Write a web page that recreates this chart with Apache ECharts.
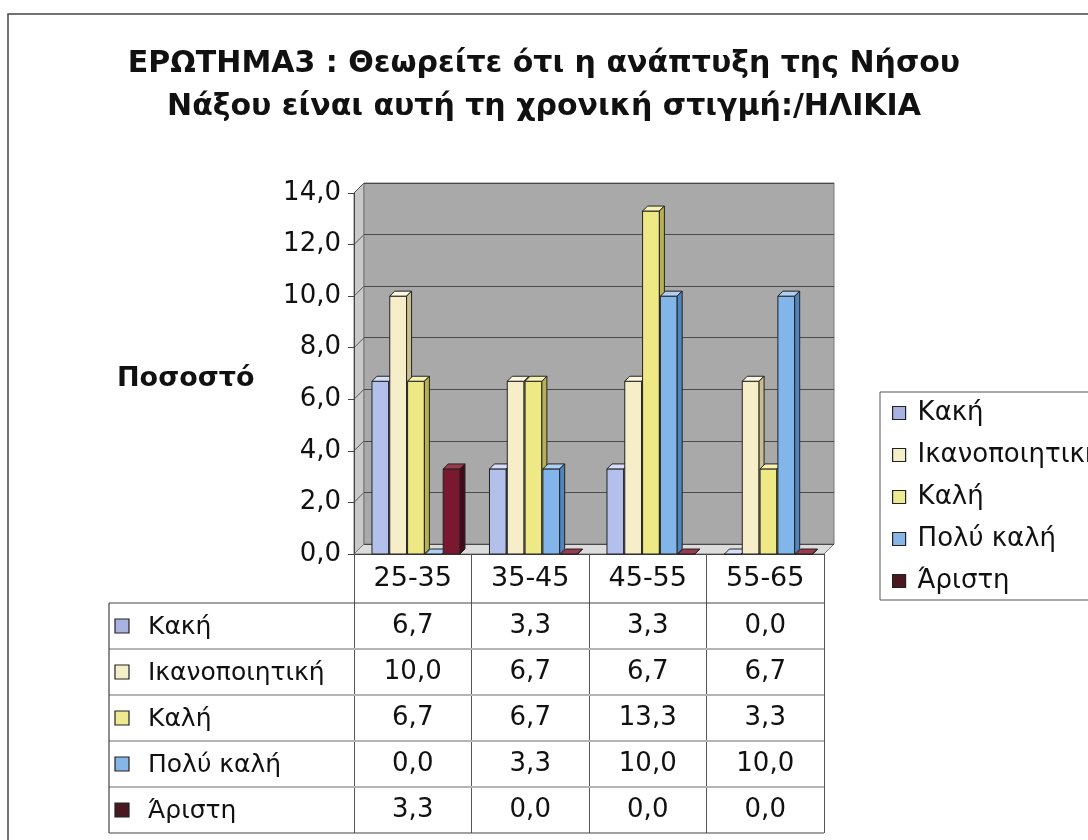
<!DOCTYPE html>
<html>
<head>
<meta charset="utf-8">
<title>ΕΡΩΤΗΜΑ3 / ΗΛΙΚΙΑ</title>
<script src="https://cdn.jsdelivr.net/npm/echarts@6.0.0/dist/echarts.min.js"></script>
<style>
  html, body { margin: 0; padding: 0; background: #fff; }
  #chart { width: 1088px; height: 840px; }
</style>
</head>
<body>
<div id="chart"></div>
<script>
  // data
  const ageGroups = ['25-35', '35-45', '45-55', '55-65'];
  const seriesNames = ['Κακή', 'Ικανοποιητική', 'Καλή', 'Πολύ καλή', 'Άριστη'];
  const kaki = [6.7, 3.3, 3.3, 0.0];
  const ikanopoiitiki = [10.0, 6.7, 6.7, 6.7];
  const kali = [6.7, 6.7, 13.3, 3.3];
  const polyKali = [0.0, 3.3, 10.0, 10.0];
  const aristi = [3.3, 0.0, 0.0, 0.0];
  const seriesValues = [kaki, ikanopoiitiki, kali, polyKali, aristi];

  // front, top, side shades for each series
  const colors = ['#b3c0ec', '#f6eec8', '#eee985', '#82b6ea', '#7a1830'];
  const topColors = ['#d8defa', '#fbf7e0', '#f6f2b4', '#afd0f3', '#9a3a50'];
  const sideColors = ['#7f8cc0', '#c9bf8e', '#b8b152', '#4f86be', '#45091a'];
  const legendColors = ['#a9b3e2', '#f3efc8', '#eeea92', '#86b6e6', '#4a1820'];

  const font = 'DejaVu Sans';
  const fmt = v => v.toFixed(1).replace('.', ',');

  // layout
  const G = { left: 354, top: 193, width: 470, height: 361 };
  const depth = 10;
  const rowTop = 603, rowH = 46, tableLeft = 109;

  const chart = echarts.init(document.getElementById('chart'));

  function barRenderer(si) {
    return function (params, api) {
      const cat = api.value(0);
      const val = api.value(1);
      const top = api.coord([cat, val]);
      const base = api.coord([cat, 0]);
      const band = api.size([1, 0])[0];
      const pitch = band * 0.1515;
      const w = pitch - 1;
      const x = top[0] - band / 2 + band * 0.153 + si * pitch;
      const d = 5;
      const y = top[1];
      const h = base[1] - y;
      const line = '#222';
      return {
        type: 'group',
        children: [
          { type: 'rect', shape: { x: x, y: y, width: w, height: h },
            style: { fill: colors[si], stroke: line, lineWidth: 1 } },
          { type: 'polygon', shape: { points: [[x, y], [x + d, y - d], [x + w + d, y - d], [x + w, y]] },
            style: { fill: topColors[si], stroke: line, lineWidth: 1 } },
          { type: 'polygon', shape: { points: [[x + w, y], [x + w + d, y - d], [x + w + d, base[1] - d], [x + w, base[1]]] },
            style: { fill: sideColors[si], stroke: line, lineWidth: 1 } }
        ]
      };
    };
  }

  // table under the plot, built from the arrays
  const band = G.width / ageGroups.length;
  const tableRight = G.left + G.width;
  const table = [];
  for (let r = 0; r <= seriesNames.length; r++) {
    const edge = r === 0 || r === seriesNames.length;
    table.push({
      type: 'line', z: 20,
      shape: { x1: tableLeft, y1: rowTop + r * rowH, x2: tableRight, y2: rowTop + r * rowH },
      style: { stroke: edge ? '#444' : '#b5b5b5', lineWidth: edge ? 1.2 : 2 }
    });
  }
  table.push({
    type: 'line', z: 20,
    shape: { x1: tableLeft, y1: rowTop, x2: tableLeft, y2: rowTop + seriesNames.length * rowH },
    style: { stroke: '#444', lineWidth: 1.2 }
  });
  seriesNames.forEach((name, r) => {
    const cy = rowTop + r * rowH + rowH / 2;
    table.push({
      type: 'rect', z: 21,
      shape: { x: tableLeft + 6, y: cy - 7, width: 14, height: 14 },
      style: { fill: legendColors[r], stroke: '#222', lineWidth: 1.2 }
    });
    table.push({
      type: 'text', z: 21, x: tableLeft + 39, y: cy + 1,
      style: { text: name, font: '25px "' + font + '"', fill: '#111', verticalAlign: 'middle' }
    });
    seriesValues[r].forEach((v, c) => {
      table.push({
        type: 'text', z: 21, x: G.left + band * (c + 0.5), y: cy,
        style: { text: fmt(v), font: '26px "' + font + '"', fill: '#111', align: 'center', verticalAlign: 'middle' }
      });
    });
  });

  // side wall and floor of the 3D box
  const bottom = G.top + G.height;
  const walls = [
    { type: 'polygon', z: -1,
      shape: { points: [[G.left, G.top], [G.left + depth, G.top - depth], [G.left + depth, bottom - depth], [G.left, bottom]] },
      style: { fill: '#c9c9c9', stroke: '#777', lineWidth: 1 } },
    { type: 'polygon', z: -1,
      shape: { points: [[G.left, bottom], [G.left + depth, bottom - depth], [tableRight + depth, bottom - depth], [tableRight, bottom]] },
      style: { fill: '#dcdcdc', stroke: '#777', lineWidth: 1 } }
  ];
  for (let v = 2; v <= 14; v += 2) {
    const y = bottom - v / 14 * G.height;
    walls.push({ type: 'line', z: -1,
      shape: { x1: G.left, y1: y, x2: G.left + depth, y2: y - depth },
      style: { stroke: '#555', lineWidth: 1 } });
  }

  const frame = {
    type: 'rect', z: 30,
    shape: { x: 8, y: 14, width: 1100, height: 840 },
    style: { fill: 'none', stroke: '#444', lineWidth: 1.5 }
  };

  const option = {
    backgroundColor: '#fff',
    animation: false,
    title: [
      {
        text: 'ΕΡΩΤΗΜΑ3 : Θεωρείτε ότι η ανάπτυξη της Νήσου\nΝάξου είναι αυτή τη χρονική στιγμή:/ΗΛΙΚΙΑ',
        left: 'center',
        top: 38,
        padding: [5, 5, 5, 17],
        textStyle: { fontFamily: font, fontSize: 30, fontWeight: 'bold', color: '#111', lineHeight: 43 }
      },
      {
        text: 'Ποσοστό',
        left: 112,
        top: 360,
        textStyle: { fontFamily: font, fontSize: 27, fontWeight: 'bold', color: '#111' }
      }
    ],
    legend: {
      orient: 'vertical',
      left: 880,
      top: 392,
      icon: 'rect',
      itemWidth: 13,
      itemHeight: 13,
      itemGap: 16,
      padding: [8, 60, 6, 12],
      borderColor: '#555',
      borderWidth: 1,
      backgroundColor: '#fff',
      textStyle: { fontFamily: font, fontSize: 26, color: '#111', padding: [0, 0, 0, 7] },
      data: seriesNames.map((n, i) => ({
        name: n,
        itemStyle: { color: legendColors[i], borderColor: '#222', borderWidth: 1.2 }
      }))
    },
    grid: [
      { left: G.left, top: G.top, width: G.width, height: G.height },
      { left: G.left + depth, top: G.top - depth, width: G.width, height: G.height,
        show: true, backgroundColor: '#a9a9a9', borderColor: '#777', borderWidth: 1 }
    ],
    xAxis: [
      {
        type: 'category', gridIndex: 0, data: ageGroups,
        axisLine: { lineStyle: { color: '#444' } },
        axisTick: { show: true, length: rowTop + seriesNames.length * rowH - bottom, lineStyle: { color: '#555' } },
        axisLabel: { fontFamily: font, fontSize: 27, color: '#111', margin: 11 }
      },
      { type: 'category', gridIndex: 1, data: ageGroups, show: false }
    ],
    yAxis: [
      {
        type: 'value', gridIndex: 0, min: 0, max: 14, interval: 2,
        axisLine: { show: true, lineStyle: { color: '#444' } },
        axisTick: { show: true, length: 6, lineStyle: { color: '#444' } },
        splitLine: { show: false },
        axisLabel: { fontFamily: font, fontSize: 26, color: '#111', margin: 13, formatter: fmt }
      },
      {
        type: 'value', gridIndex: 1, min: 0, max: 14, interval: 2,
        axisLine: { show: false }, axisTick: { show: false }, axisLabel: { show: false },
        splitLine: { show: true, lineStyle: { color: '#4a4a4a', width: 1 } }
      }
    ],
    series: seriesNames.map((name, si) => ({
      name: name,
      type: 'custom',
      xAxisIndex: 0,
      yAxisIndex: 0,
      itemStyle: { color: legendColors[si] },
      renderItem: barRenderer(si),
      encode: { x: 0, y: 1 },
      data: seriesValues[si].map((v, c) => [c, v])
    })),
    graphic: walls.concat(table, [frame])
  };

  chart.setOption(option);
</script>
</body>
</html>
